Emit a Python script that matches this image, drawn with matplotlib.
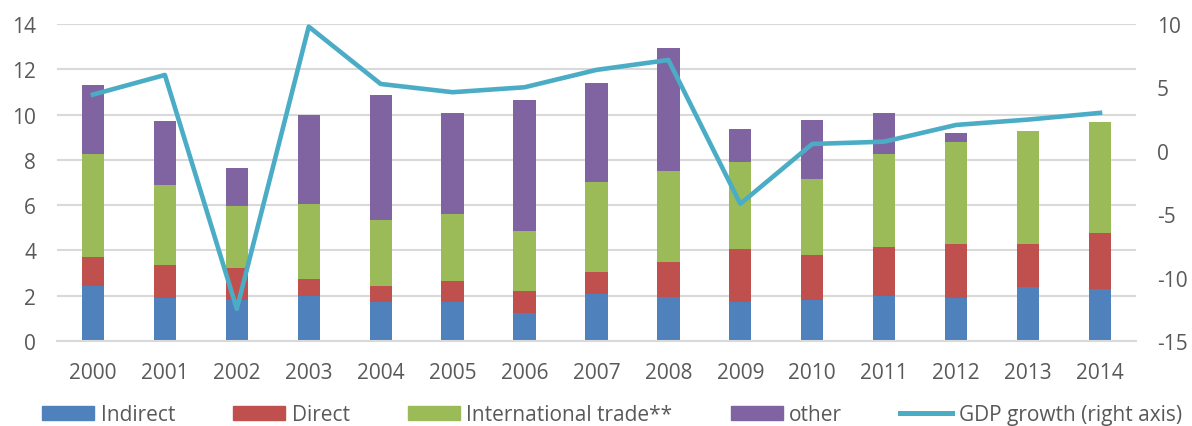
import matplotlib.pyplot as plt
import numpy as np
from matplotlib.patches import Patch
from matplotlib.lines import Line2D

plt.rcParams['font.family'] = ['Open Sans', 'DejaVu Sans']
plt.rcParams['axes.unicode_minus'] = False

years = ['2000', '2001', '2002', '2003', '2004', '2005', '2006', '2007',
         '2008', '2009', '2010', '2011', '2012', '2013', '2014']

# stacked components
indirect = [2.43, 1.92, 1.81, 2.00, 1.72, 1.72, 1.24, 2.06, 1.96, 1.72, 1.81, 1.99, 1.90, 2.38, 2.28]
direct = [1.30, 1.45, 1.41, 0.72, 0.71, 0.93, 0.95, 1.01, 1.51, 2.34, 1.97, 2.14, 2.39, 1.90, 2.50]
intl_trade = [4.52, 3.51, 2.75, 3.33, 2.92, 2.95, 2.66, 3.97, 4.03, 3.85, 3.38, 4.12, 4.49, 5.00, 4.91]
other = [3.06, 2.84, 1.68, 3.95, 5.52, 4.49, 5.81, 4.37, 5.46, 1.46, 2.59, 1.83, 0.40, 0.00, 0.00]

gdp_growth = [4.43, 5.98, -12.46, 9.79, 5.27, 4.62, 5.01, 6.38, 7.16, -4.18,
              0.54, 0.72, 2.04, 2.46, 2.99]

c_blue = '#4f81bd'
c_red = '#c0504d'
c_green = '#9bbb59'
c_purple = '#8064a2'
c_line = '#4bacc6'
txt = '#595959'

fig = plt.figure(figsize=(11.92, 4.27), dpi=100)
ax = fig.add_axes([0.0478, 0.199, 0.9052, 0.7425])
x = np.arange(len(years))
w = 0.31

b1 = np.array(indirect)
b2 = b1 + np.array(direct)
b3 = b2 + np.array(intl_trade)
ax.bar(x, indirect, w, color=c_blue, zorder=2)
ax.bar(x, direct, w, bottom=b1, color=c_red, zorder=2)
ax.bar(x, intl_trade, w, bottom=b2, color=c_green, zorder=2)
ax.bar(x, other, w, bottom=b3, color=c_purple, zorder=2)

ax.set_ylim(0, 14)
ax.set_yticks(range(0, 15, 2))
ax.set_xlim(-0.5, len(years) - 0.5)
ax.set_xticks(x)
ax.set_xticklabels(years)
ax.yaxis.grid(True, color='#d9d9d9', linewidth=1.5, zorder=0)
ax.set_axisbelow(True)
for s in ['top', 'left', 'right']:
    ax.spines[s].set_visible(False)
ax.spines['bottom'].set_color('#d9d9d9')
ax.spines['bottom'].set_linewidth(1.5)
ax.tick_params(length=0, labelsize=15, colors=txt)
ax.tick_params(axis='x', pad=15)
ax.tick_params(axis='y', pad=15)

ax2 = ax.twinx()
ax2.plot(x, gdp_growth, color=c_line, linewidth=3.3, zorder=5)
ax2.set_ylim(-15, 10)
ax2.set_yticks(range(-15, 11, 5))
for s in ['top', 'left', 'right', 'bottom']:
    ax2.spines[s].set_visible(False)
ax2.tick_params(length=0, labelsize=15, colors=txt, pad=15)

handles = [Patch(color=c_blue), Patch(color=c_red), Patch(color=c_green),
           Patch(color=c_purple), Line2D([], [], color=c_line, linewidth=3.6)]
labels = ['Indirect', 'Direct', 'International trade**', 'other', 'GDP growth (right axis)']
fig.legend(handles, labels, loc='center', bbox_to_anchor=(612 / 1192, 1 - 416 / 427), ncol=5,
           frameon=False, fontsize=15, labelcolor=txt, handlelength=2.5,
           handleheight=0.63, handletextpad=0.3, columnspacing=2.8)

fig.savefig('out.png', dpi=100)
